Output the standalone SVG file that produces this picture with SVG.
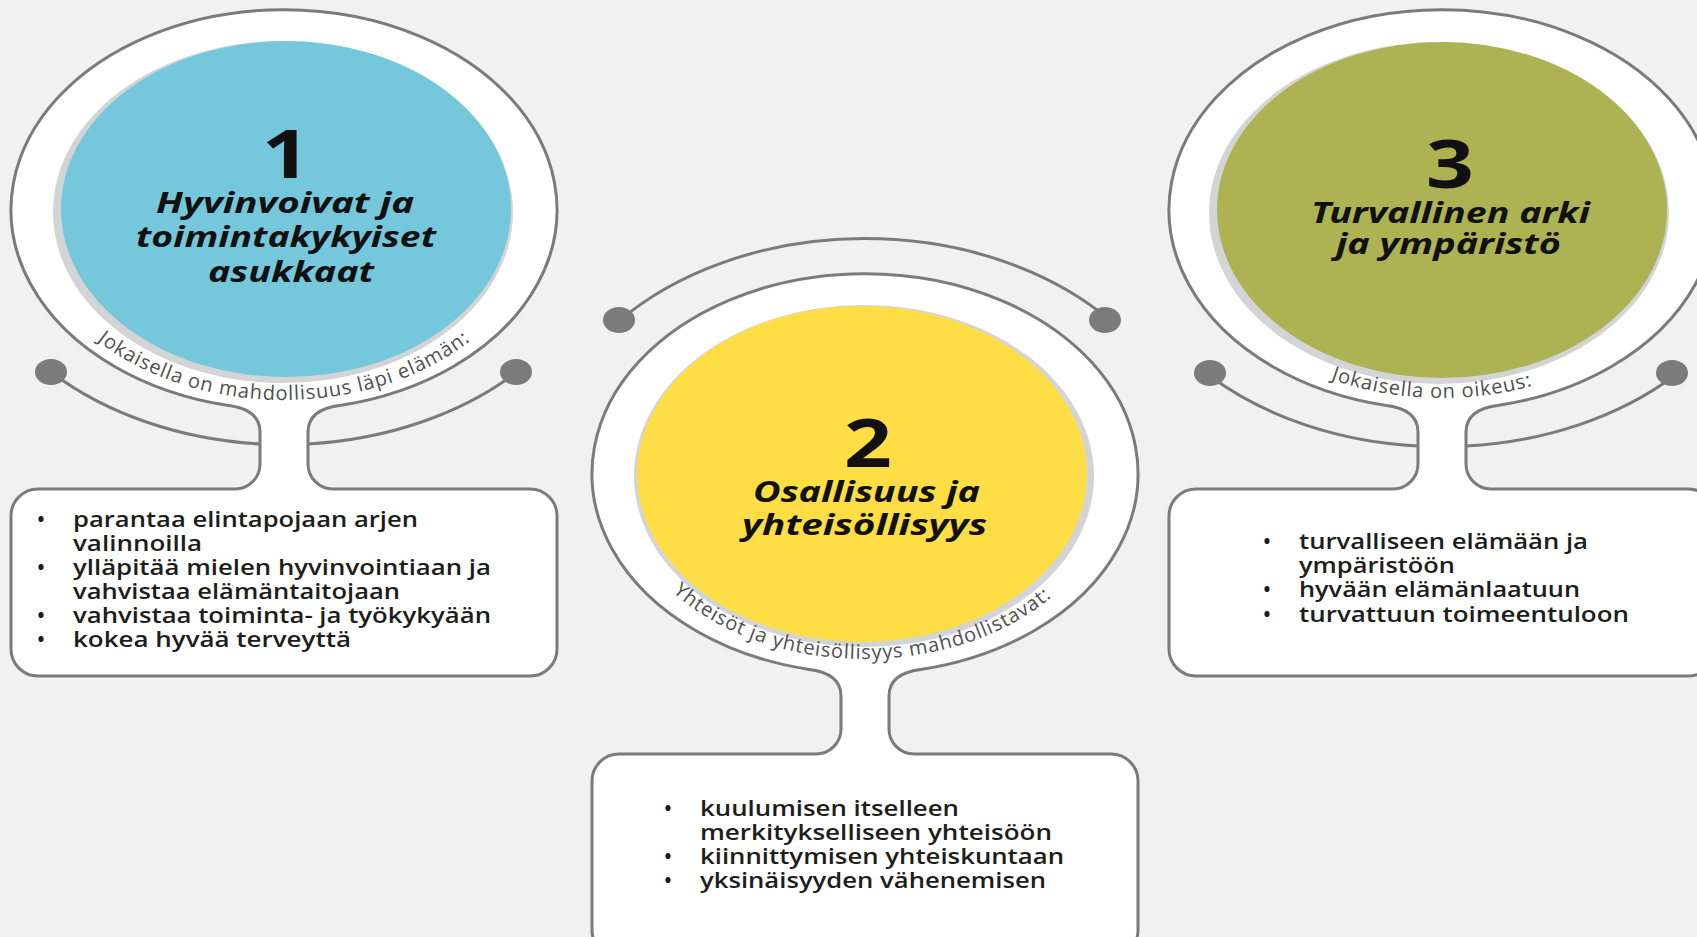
<svg xmlns="http://www.w3.org/2000/svg" width="1697" height="937" viewBox="0 0 1697 937">
<style>
.bg{fill:#f0f1f0}
.shape{fill:#ffffff;stroke:#7b7b7b;stroke-width:3}
.shadow{fill:#d3d4d6}
.conn{fill:none;stroke:#7b7b7b;stroke-width:3}
.dot{fill:#7b7b7b}
.digit{font-family:"Noto Sans","DejaVu Sans",sans-serif;font-weight:700;font-size:67px;fill:#111;text-anchor:middle}
.title{font-family:"Noto Sans","DejaVu Sans",sans-serif;font-weight:700;font-style:italic;font-size:28px;fill:#111}
.arc{font-family:"Open Sans","Noto Sans",sans-serif;font-size:20px;fill:#505050;letter-spacing:0.9px}
.item{font-family:"Open Sans","Noto Sans",sans-serif;font-weight:600;font-size:21px;fill:#1d1d1b}
</style>
<defs>
<path id="p1" d="M 27 210 A 257 190 0 0 0 541 210"/>
<path id="p2" d="M 615 474 A 250 185 0 0 0 1115 474"/>
<path id="p3" d="M 1187 210 A 255 188 0 0 0 1697 210"/>
</defs>
<rect class="bg" x="0" y="0" width="1697" height="937"/>
<g id="connectors">
<path class="conn" d="M 51 372 A 324 236 0 0 0 260 444"/>
<path class="conn" d="M 308 444 A 324 236 0 0 0 517 372"/>
<path class="conn" d="M 619 321 A 324 236 0 0 1 1111 321"/>
<path class="conn" d="M 1210 376 A 324 236 0 0 0 1418 446"/>
<path class="conn" d="M 1466 446 A 324 236 0 0 0 1674 376"/>
<ellipse class="dot" cx="51" cy="372" rx="16" ry="13"/>
<ellipse class="dot" cx="516" cy="372" rx="16" ry="13"/>
<ellipse class="dot" cx="619" cy="320" rx="16" ry="13"/>
<ellipse class="dot" cx="1105" cy="320" rx="16" ry="13"/>
<ellipse class="dot" cx="1210" cy="373" rx="16" ry="13"/>
<ellipse class="dot" cx="1672" cy="373" rx="16" ry="13"/>
</g>
<g id="node1">
<path class="shape" d="M 227 405.3 Q 260 409.2 260 432 L 260 464 A 25 25 0 0 1 235 489 L 38 489 A 27 27 0 0 0 11 516 L 11 649 A 27 27 0 0 0 38 676 L 530 676 A 27 27 0 0 0 557 649 L 557 516 A 27 27 0 0 0 530 489 L 333 489 A 25 25 0 0 1 308 464 L 308 432 Q 308 409.2 341 405.3 A 273 200 0 1 0 227 405.3 Z"/>
<ellipse class="shadow" cx="283" cy="212" rx="230" ry="171"/>
<ellipse cx="286" cy="209" rx="225" ry="168" fill="#75c7db"/>
<text class="digit" transform="translate(286,178) scale(1.25,1)">1</text>
<text class="title" x="156" y="213" textLength="258" lengthAdjust="spacingAndGlyphs">Hyvinvoivat ja</text>
<text class="title" x="136" y="247" textLength="300" lengthAdjust="spacingAndGlyphs">toimintakykyiset</text>
<text class="title" x="208" y="282" textLength="166" lengthAdjust="spacingAndGlyphs">asukkaat</text>
<text class="arc"><textPath href="#p1" startOffset="50%" text-anchor="middle">Jokaisella on mahdollisuus läpi elämän:</textPath></text>
<text class="item" x="37" y="527">•</text>
<text class="item" x="73" y="527" textLength="345" lengthAdjust="spacingAndGlyphs">parantaa elintapojaan arjen</text>
<text class="item" x="73" y="551" textLength="129" lengthAdjust="spacingAndGlyphs">valinnoilla</text>
<text class="item" x="37" y="575">•</text>
<text class="item" x="73" y="575" textLength="418" lengthAdjust="spacingAndGlyphs">ylläpitää mielen hyvinvointiaan ja</text>
<text class="item" x="73" y="599" textLength="327" lengthAdjust="spacingAndGlyphs">vahvistaa elämäntaitojaan</text>
<text class="item" x="37" y="623">•</text>
<text class="item" x="73" y="623" textLength="418" lengthAdjust="spacingAndGlyphs">vahvistaa toiminta- ja työkykyään</text>
<text class="item" x="37" y="647">•</text>
<text class="item" x="73" y="647" textLength="278" lengthAdjust="spacingAndGlyphs">kokea hyvää terveyttä</text>
</g>
<g id="node2">
<path class="shape" d="M 808 669.3 Q 841 673.2 841 696 L 841 729 A 25 25 0 0 1 816 754 L 619 754 A 27 27 0 0 0 592 781 L 592 930 A 27 27 0 0 0 619 957 L 1111 957 A 27 27 0 0 0 1138 930 L 1138 781 A 27 27 0 0 0 1111 754 L 914 754 A 25 25 0 0 1 889 729 L 889 696 Q 889 673.2 922 669.3 A 273 200 0 1 0 808 669.3 Z"/>
<ellipse class="shadow" cx="864" cy="476" rx="230" ry="171"/>
<ellipse cx="862" cy="474" rx="225" ry="168" fill="#fedd45"/>
<text class="digit" transform="translate(868,467) scale(1.25,1)">2</text>
<text class="title" x="753" y="502" textLength="227" lengthAdjust="spacingAndGlyphs">Osallisuus ja</text>
<text class="title" x="742" y="535" textLength="245" lengthAdjust="spacingAndGlyphs">yhteisöllisyys</text>
<text class="arc"><textPath href="#p2" startOffset="49.5%" text-anchor="middle">Yhteisöt ja yhteisöllisyys mahdollistavat:</textPath></text>
<text class="item" x="664" y="816">•</text>
<text class="item" x="700" y="816" textLength="259" lengthAdjust="spacingAndGlyphs">kuulumisen itselleen</text>
<text class="item" x="700" y="840" textLength="352" lengthAdjust="spacingAndGlyphs">merkitykselliseen yhteisöön</text>
<text class="item" x="664" y="864">•</text>
<text class="item" x="700" y="864" textLength="364" lengthAdjust="spacingAndGlyphs">kiinnittymisen yhteiskuntaan</text>
<text class="item" x="664" y="888">•</text>
<text class="item" x="700" y="888" textLength="346" lengthAdjust="spacingAndGlyphs">yksinäisyyden vähenemisen</text>
</g>
<g id="node3">
<path class="shape" d="M 1385 405.3 Q 1418 409.2 1418 432 L 1418 464 A 25 25 0 0 1 1393 489 L 1196 489 A 27 27 0 0 0 1169 516 L 1169 649 A 27 27 0 0 0 1196 676 L 1688 676 A 27 27 0 0 0 1715 649 L 1715 516 A 27 27 0 0 0 1688 489 L 1491 489 A 25 25 0 0 1 1466 464 L 1466 432 Q 1466 409.2 1499 405.3 A 273 200 0 1 0 1385 405.3 Z"/>
<ellipse class="shadow" cx="1439" cy="213" rx="230" ry="171"/>
<ellipse cx="1442" cy="210" rx="225" ry="168" fill="#adb253"/>
<text class="digit" transform="translate(1450,188) scale(1.25,1)">3</text>
<text class="title" x="1311" y="223" textLength="279" lengthAdjust="spacingAndGlyphs">Turvallinen arki</text>
<text class="title" x="1336" y="254" textLength="225" lengthAdjust="spacingAndGlyphs">ja ympäristö</text>
<text class="arc"><textPath href="#p3" startOffset="48.5%" text-anchor="middle">Jokaisella on oikeus:</textPath></text>
<text class="item" x="1263" y="549">•</text>
<text class="item" x="1299" y="549" textLength="289" lengthAdjust="spacingAndGlyphs">turvalliseen elämään ja</text>
<text class="item" x="1299" y="573" textLength="156" lengthAdjust="spacingAndGlyphs">ympäristöön</text>
<text class="item" x="1263" y="597">•</text>
<text class="item" x="1299" y="597" textLength="281" lengthAdjust="spacingAndGlyphs">hyvään elämänlaatuun</text>
<text class="item" x="1263" y="622">•</text>
<text class="item" x="1299" y="622" textLength="330" lengthAdjust="spacingAndGlyphs">turvattuun toimeentuloon</text>
</g>
</svg>
